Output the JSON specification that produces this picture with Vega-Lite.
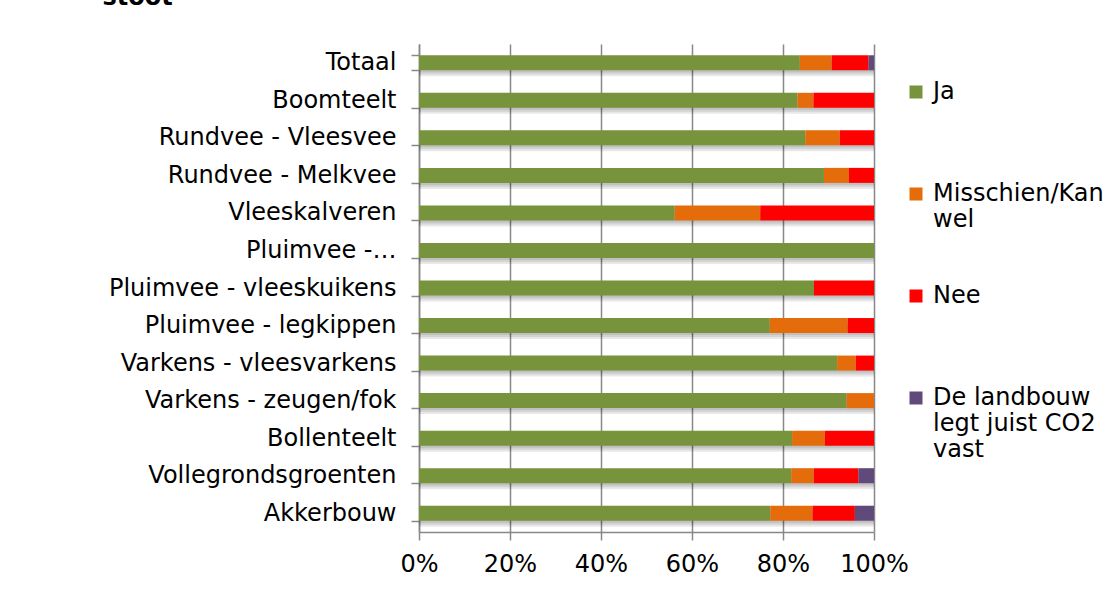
{
  "$schema": "https://vega.github.io/schema/vega-lite/v6.json",
  "width": 455,
  "height": 488,
  "autosize": {"type": "none"},
  "padding": {"left": 419, "top": 44, "right": 238, "bottom": 59},
  "background": "white",
  "title": {"text": "stoot", "anchor": "start", "frame": "bounds", "dx": -6, "font": "DejaVu Sans", "fontSize": 24, "fontWeight": "bold", "color": "#000000", "baseline": "alphabetic", "offset": 3},
  "data": {
    "values": [
      {"sector": "Totaal", "antwoord": "Ja", "pct": 83.7},
      {"sector": "Totaal", "antwoord": "Misschien/Kan wel", "pct": 7.0},
      {"sector": "Totaal", "antwoord": "Nee", "pct": 8.1},
      {"sector": "Totaal", "antwoord": "De landbouw legt juist CO2 vast", "pct": 1.2},
      {"sector": "Boomteelt", "antwoord": "Ja", "pct": 83.2},
      {"sector": "Boomteelt", "antwoord": "Misschien/Kan wel", "pct": 3.5},
      {"sector": "Boomteelt", "antwoord": "Nee", "pct": 13.3},
      {"sector": "Rundvee - Vleesvee", "antwoord": "Ja", "pct": 84.9},
      {"sector": "Rundvee - Vleesvee", "antwoord": "Misschien/Kan wel", "pct": 7.6},
      {"sector": "Rundvee - Vleesvee", "antwoord": "Nee", "pct": 7.5},
      {"sector": "Rundvee - Melkvee", "antwoord": "Ja", "pct": 89.0},
      {"sector": "Rundvee - Melkvee", "antwoord": "Misschien/Kan wel", "pct": 5.5},
      {"sector": "Rundvee - Melkvee", "antwoord": "Nee", "pct": 5.5},
      {"sector": "Vleeskalveren", "antwoord": "Ja", "pct": 56.2},
      {"sector": "Vleeskalveren", "antwoord": "Misschien/Kan wel", "pct": 18.8},
      {"sector": "Vleeskalveren", "antwoord": "Nee", "pct": 25.0},
      {"sector": "Pluimvee -…", "antwoord": "Ja", "pct": 100.0},
      {"sector": "Pluimvee - vleeskuikens", "antwoord": "Ja", "pct": 86.8},
      {"sector": "Pluimvee - vleeskuikens", "antwoord": "Nee", "pct": 13.2},
      {"sector": "Pluimvee - legkippen", "antwoord": "Ja", "pct": 77.1},
      {"sector": "Pluimvee - legkippen", "antwoord": "Misschien/Kan wel", "pct": 17.1},
      {"sector": "Pluimvee - legkippen", "antwoord": "Nee", "pct": 5.8},
      {"sector": "Varkens - vleesvarkens", "antwoord": "Ja", "pct": 91.9},
      {"sector": "Varkens - vleesvarkens", "antwoord": "Misschien/Kan wel", "pct": 4.1},
      {"sector": "Varkens - vleesvarkens", "antwoord": "Nee", "pct": 4.0},
      {"sector": "Varkens - zeugen/fok", "antwoord": "Ja", "pct": 94.0},
      {"sector": "Varkens - zeugen/fok", "antwoord": "Misschien/Kan wel", "pct": 6.0},
      {"sector": "Bollenteelt", "antwoord": "Ja", "pct": 82.0},
      {"sector": "Bollenteelt", "antwoord": "Misschien/Kan wel", "pct": 7.2},
      {"sector": "Bollenteelt", "antwoord": "Nee", "pct": 10.8},
      {"sector": "Vollegrondsgroenten", "antwoord": "Ja", "pct": 81.8},
      {"sector": "Vollegrondsgroenten", "antwoord": "Misschien/Kan wel", "pct": 5.0},
      {"sector": "Vollegrondsgroenten", "antwoord": "Nee", "pct": 9.8},
      {"sector": "Vollegrondsgroenten", "antwoord": "De landbouw legt juist CO2 vast", "pct": 3.4},
      {"sector": "Akkerbouw", "antwoord": "Ja", "pct": 77.2},
      {"sector": "Akkerbouw", "antwoord": "Misschien/Kan wel", "pct": 9.3},
      {"sector": "Akkerbouw", "antwoord": "Nee", "pct": 9.3},
      {"sector": "Akkerbouw", "antwoord": "De landbouw legt juist CO2 vast", "pct": 4.2}
    ]
  },
  "transform": [
    {"calculate": "indexof(['Ja', 'Misschien/Kan wel', 'Nee', 'De landbouw legt juist CO2 vast'], datum.antwoord)", "as": "volgorde"}
  ],
  "encoding": {
    "y": {
      "field": "sector",
      "type": "nominal",
      "sort": ["Totaal", "Boomteelt", "Rundvee - Vleesvee", "Rundvee - Melkvee", "Vleeskalveren", "Pluimvee -…", "Pluimvee - vleeskuikens", "Pluimvee - legkippen", "Varkens - vleesvarkens", "Varkens - zeugen/fok", "Bollenteelt", "Vollegrondsgroenten", "Akkerbouw"],
      "scale": {"paddingInner": 0.6, "paddingOuter": 0.3},
      "axis": {
        "title": null,
        "labelFont": "DejaVu Sans",
        "labelFontSize": 24,
        "labelColor": "#000000",
        "labelPadding": 15,
        "labelLimit": 400,
        "tickBand": "extent",
        "tickSize": 8,
        "tickColor": "#888888",
        "tickWidth": 1.5,
        "domainColor": "#888888",
        "domainWidth": 1.5,
        "grid": false
      }
    },
    "x": {
      "field": "pct",
      "type": "quantitative",
      "stack": "normalize",
      "scale": {"domain": [0, 1], "nice": false},
      "axis": {
        "title": null,
        "format": ".0%",
        "values": [0, 0.2, 0.4, 0.6, 0.8, 1],
        "grid": true,
        "gridColor": "#888888",
        "gridWidth": 1.5,
        "tickSize": 8,
        "tickColor": "#888888",
        "tickWidth": 1.5,
        "domainColor": "#888888",
        "domainWidth": 1.5,
        "labelFont": "DejaVu Sans",
        "labelFontSize": 24,
        "labelColor": "#000000",
        "labelPadding": 12,
        "labelFlush": false
      }
    },
    "order": {"field": "volgorde", "type": "quantitative"},
    "detail": {"field": "antwoord", "type": "nominal"}
  },
  "layer": [
    {"mark": {"type": "bar", "color": "#000000", "opacity": 0.09, "yOffset": 6}},
    {"mark": {"type": "bar", "color": "#000000", "opacity": 0.09, "yOffset": 4}},
    {"mark": {"type": "bar", "color": "#000000", "opacity": 0.09, "yOffset": 2}},
    {
      "mark": {"type": "bar"},
      "encoding": {
        "color": {
          "field": "antwoord",
          "type": "nominal",
          "scale": {
            "domain": ["Ja", "Misschien/Kan wel", "Nee", "De landbouw legt juist CO2 vast"],
            "range": ["#77933C", "#E46C0A", "#FF0000", "#604A7B"]
          },
          "legend": {
            "orient": "none",
            "legendX": 485,
            "legendY": 36,
            "title": null,
            "padding": 0,
            "labelFont": "DejaVu Sans",
            "labelFontSize": 24,
            "labelColor": "#000000",
            "labelLimit": 300,
            "labelOffset": 5,
            "labelBaseline": "middle",
            "symbolType": "square",
            "symbolSize": 169,
            "symbolStrokeWidth": 0,
            "gridAlign": "all",
            "rowPadding": 26,
            "labelExpr": "datum.label == 'Misschien/Kan wel' ? ['Misschien/Kan', 'wel'] : datum.label == 'De landbouw legt juist CO2 vast' ? ['De landbouw', 'legt juist CO2', 'vast'] : datum.label"
          }
        }
      }
    }
  ],
  "config": {"view": {"stroke": null}}
}
